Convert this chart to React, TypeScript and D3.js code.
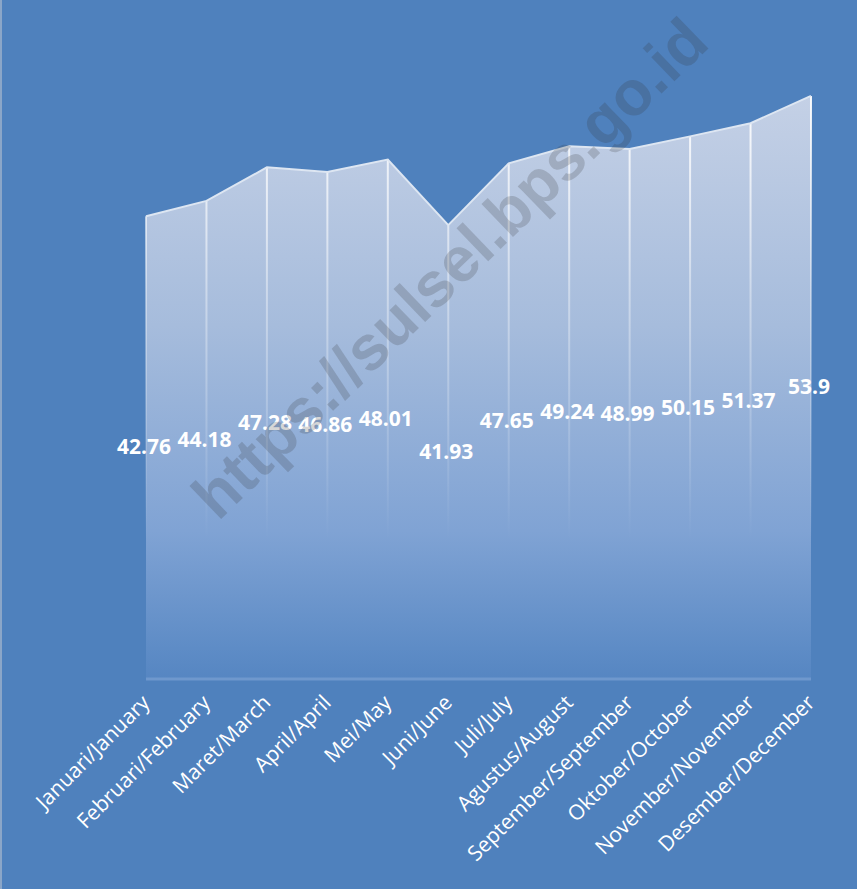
import React from "react";
import * as d3 from "d3";

const months = [
  "Januari/January",
  "Februari/February",
  "Maret/March",
  "April/April",
  "Mei/May",
  "Juni/June",
  "Juli/July",
  "Agustus/August",
  "September/September",
  "Oktober/October",
  "November/November",
  "Desember/December",
];
const values = [42.76, 44.18, 47.28, 46.86, 48.01, 41.93, 47.65, 49.24, 48.99, 50.15, 51.37, 53.9];
const valueLabels = ["42.76", "44.18", "47.28", "46.86", "48.01", "41.93", "47.65", "49.24", "48.99", "50.15", "51.37", "53.9"];
const yDomain = [0, 60];
const watermark = "https://sulsel.bps.go.id";

const W = 857;
const H = 889;

export default function App() {
  const x = d3.scalePoint<string>().domain(months).range([146, 811]);
  const y = d3.scaleLinear().domain(yDomain).range([678, 30]);
  const data = months.map((m, i) => ({ m, v: values[i], label: valueLabels[i] }));
  const area = d3
    .area<{ m: string; v: number }>()
    .x((d) => x(d.m)!)
    .y0(y(0))
    .y1((d) => y(d.v));
  const line = d3
    .line<{ m: string; v: number }>()
    .x((d) => x(d.m)!)
    .y((d) => y(d.v));
  const base = y(0);

  return (
    <svg
      width={W}
      height={H}
      style={{ position: "absolute", left: 0, top: 0 }}
      xmlns="http://www.w3.org/2000/svg"
    >
      <defs>
        <linearGradient id="areaGrad" gradientUnits="userSpaceOnUse" x1="0" y1="90" x2="0" y2={base}>
          <stop offset="0" stopColor="#c5d1e6" />
          <stop offset="0.4" stopColor="#a6bcdc" />
          <stop offset="0.75" stopColor="#80a3d4" />
          <stop offset="0.95" stopColor="#5e8cc6" />
          <stop offset="1" stopColor="#5686c2" />
        </linearGradient>
        <linearGradient id="dropGrad" gradientUnits="userSpaceOnUse" x1="0" y1="90" x2="0" y2="540">
          <stop offset="0" stopColor="#ffffff" stopOpacity="0.95" />
          <stop offset="0.45" stopColor="#ffffff" stopOpacity="0.4" />
          <stop offset="1" stopColor="#ffffff" stopOpacity="0" />
        </linearGradient>
      </defs>
      <rect x={0} y={0} width={W} height={H} fill="#4f81bd" />
      <line x1={1} y1={0} x2={1} y2={H} stroke="#9fb3cc" strokeWidth={1.5} />

      <path d={area(data) ?? ""} fill="url(#areaGrad)" />
      {data.map((d) => (
        <line
          key={"drop" + d.m}
          x1={x(d.m)}
          x2={x(d.m)}
          y1={y(d.v)}
          y2={base}
          stroke="url(#dropGrad)"
          strokeWidth={2}
        />
      ))}
      <path d={line(data) ?? ""} fill="none" stroke="#dde6f2" strokeWidth={2} />
      <line x1={146} x2={811} y1={base + 1} y2={base + 1} stroke="#6f98cd" strokeWidth={3} />

      {data.map((d) => (
        <text
          key={"lbl" + d.m}
          x={x(d.m)! - 2}
          y={(y(d.v) + base) / 2}
          dy="0.35em"
          textAnchor="middle"
          fill="#ffffff"
          fontFamily="'Open Sans', sans-serif"
          fontWeight="bold"
          fontSize={21}
        >
          {d.label}
        </text>
      ))}

      {months.map((m) => (
        <text
          key={"x" + m}
          transform={`translate(${x(m)! + 5},${base + 26}) rotate(-45)`}
          textAnchor="end"
          fill="#ffffff"
          fontFamily="'Open Sans', sans-serif"
          fontSize={21}
        >
          {m}
        </text>
      ))}

      <text
        transform="translate(218,522) rotate(-44)"
        fill="#333333"
        fillOpacity={0.2}
        fontFamily="'Liberation Sans', Arial, sans-serif"
        fontWeight="bold"
        fontSize={63}
      >
        {watermark}
      </text>
    </svg>
  );
}
